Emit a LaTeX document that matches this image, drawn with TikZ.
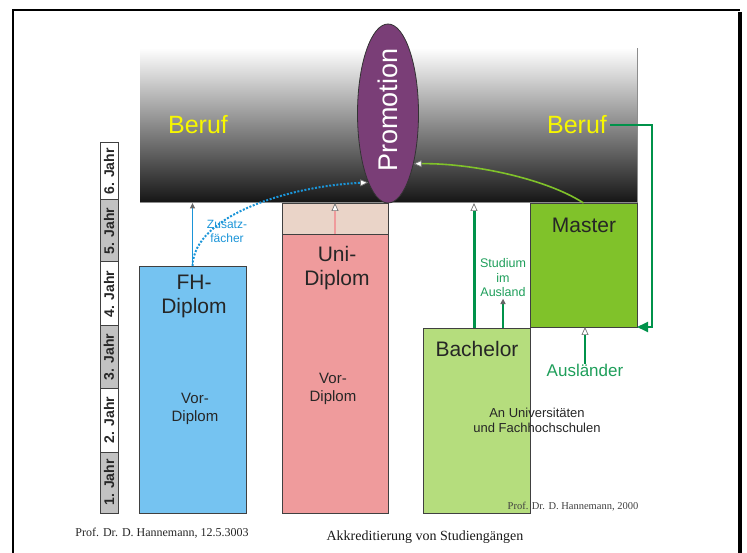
\documentclass[tikz,border=0pt]{standalone}
\usepackage{fontspec}
\setmainfont{Liberation Sans}
\newfontfamily\serifft{Liberation Serif}
\usetikzlibrary{shapes.geometric,arrows.meta,calc}
\definecolor{fhblue}{HTML}{75C3F1}
\definecolor{unipink}{HTML}{EF9B9C}
\definecolor{unitop}{HTML}{EAD4C8}
\definecolor{bachgreen}{HTML}{B5DD7D}
\definecolor{mastgreen}{HTML}{80C22A}
\definecolor{promopurple}{HTML}{7A3E77}
\definecolor{dkgreen}{HTML}{00924A}
\definecolor{txgreen}{HTML}{1E9E5A}
\definecolor{lnblue}{HTML}{1B95D8}
\definecolor{berufyellow}{HTML}{F7F700}
\definecolor{yeargray}{HTML}{C2C2C2}
\begin{document}
\begin{tikzpicture}[x=1pt,y=-1pt,
  box/.style={draw=black!75, line width=0.8pt, inner sep=0pt, outer sep=0pt, anchor=north west},
  yearbox/.style={box, minimum width=18pt, line width=1pt},
  yeartext/.style={rotate=90, font=\bfseries\fontsize{14}{14}\selectfont, inner sep=0pt, text=black!85},
  bigtext/.style={font=\fontsize{21}{24}\selectfont, align=center, text=black!85},
  midtext/.style={font=\fontsize{15}{18}\selectfont, align=center, text=black!85},
  openarr/.style={-{Triangle[length=8pt,width=7pt,color=black!55,fill=white,line width=0.7pt]}},
  smallarr/.style={-{Triangle[length=5.5pt,width=5pt,color=black!60]}},
]
\useasboundingbox (0,0) rectangle (747,553);

% frame
\draw[line width=2.2pt] (13,553) -- (13,10) -- (740,10);
\draw[line width=4pt] (740,12) -- (740,553);

% band (Beruf)
\node[anchor=north west, inner sep=0pt, outer sep=0pt, minimum width=497pt, minimum height=155pt,
      top color=white, middle color=black!52, bottom color=black!92] (band) at (140,48) {};
\draw[black!45, line width=1pt] (band.south west) -- (band.south east) -- (band.north east);

\node[font=\fontsize{25}{25}\selectfont, text=berufyellow] (beruf1) at (198,125) {Beruf};
\node[font=\fontsize{25}{25}\selectfont, text=berufyellow] (beruf2) at (577,125) {Beruf};

% year column
\node[yearbox, fill=white,     minimum height=57pt] (y6) at (100,143) {};
\node[yearbox, fill=yeargray,  minimum height=62pt] (y5) at (100,200) {};
\node[yearbox, fill=white,     minimum height=64pt] (y4) at (100,262) {};
\node[yearbox, fill=yeargray,  minimum height=62pt] (y3) at (100,326) {};
\node[yearbox, fill=white,     minimum height=64pt] (y2) at (100,388) {};
\node[yearbox, fill=yeargray,  minimum height=61pt] (y1) at (100,452) {};
\node[yeartext] (t6) at (y6) {6. Jahr};
\node[yeartext] (t5) at (y5) {5. Jahr};
\node[yeartext] (t4) at (y4) {4. Jahr};
\node[yeartext] (t3) at (y3) {3. Jahr};
\node[yeartext] (t2) at (y2) {2. Jahr};
\node[yeartext] (t1) at (y1) {1. Jahr};

% FH-Diplom
\node[box, fill=fhblue, minimum width=107pt, minimum height=247pt] (fh) at (139,266) {};
\node[bigtext] (fhtext) at (194,296) {FH-\\Diplom};
\node[midtext] (fhvor) at (195,409) {Vor-\\Diplom};

% Uni-Diplom
\node[box, fill=unitop, minimum width=106pt, minimum height=31pt] (unitopbox) at (282,203) {};
\node[box, fill=unipink, minimum width=106pt, minimum height=279pt] (uni) at (282,234) {};
\node[bigtext] (unitext) at (337,268) {Uni-\\Diplom};
\node[midtext] (univor) at (333,389) {Vor-\\Diplom};

% Bachelor / Master
\node[box, fill=bachgreen, minimum width=107pt, minimum height=185pt] (ba) at (423,328) {};
\node[box, fill=mastgreen, minimum width=107pt, minimum height=124pt] (ma) at (530,203) {};
\node[bigtext] (batext) at (477,349) {Bachelor};
\node[bigtext] (matext) at (584,225) {Master};
\node[font=\fontsize{13}{15}\selectfont, align=center, text=black!85] (antext) at (537,420) {An Universitäten\\und Fachhochschulen};

% Promotion
\node[ellipse, draw=black!80, line width=0.8pt, fill=promopurple, minimum width=61pt, minimum height=179pt, inner sep=0pt] (promo) at (388,113.5) {};
\node[rotate=90, text=white, font=\fontsize{27}{27}\selectfont] (promotext) at (388,110) {Promotion};

% connectors
\draw[lnblue, line width=1.8pt, smallarr] (fh.north) -- (fh.north |- band.south);
\draw[unipink, line width=1.8pt, openarr] (uni.north) -- (unitopbox.north);
\draw[lnblue, line width=2pt, dash pattern=on 2pt off 1.6pt, openarr]
  (fh.north) .. controls (194,215) and (290,186) .. (promo.254);
\node[text=lnblue, font=\fontsize{12}{14}\selectfont, align=center] (zus) at (227,231) {Zusatz-\\fächer};

\draw[mastgreen, line width=1.6pt, openarr]
  (ma.north) .. controls (545,178) and (470,163) .. (promo.297);

\draw[dkgreen, line width=3pt, openarr] ([xshift=-2.5pt]ba.north) -- ([xshift=-2.5pt]ba.north |- band.south);

\node[text=txgreen, font=\fontsize{12.5}{14.5}\selectfont, align=center] (stud) at (503,278) {Studium\\im\\Ausland};
\draw[dkgreen, line width=2pt, smallarr] (stud.south |- ba.north) -- ([yshift=2pt]stud.south);

\node[text=txgreen, font=\fontsize{17}{17}\selectfont] (aus) at (585,370) {Ausländer};
\draw[dkgreen, line width=2pt, openarr] ([yshift=-4pt]aus.north) -- (aus.north |- ma.south);

\draw[dkgreen, line width=1.8pt, -{Triangle[length=11pt,width=10pt]}]
  (beruf2.east) -| ([xshift=15pt]ma.south east) -- (ma.south east);

% footer
\node[font=\serifft\fontsize{12}{12}\selectfont, text=black!85] (foot1) at (162,533) {Prof. Dr. D. Hannemann, 12.5.3003};
\node[font=\serifft\fontsize{14}{14}\selectfont, text=black!90] (foot2) at (425,537) {Akkreditierung von Studiengängen};
\node[font=\serifft\fontsize{10.5}{10.5}\selectfont, text=black!75] (foot3) at (573,507) {Prof. Dr. D. Hannemann, 2000};
\end{tikzpicture}
\end{document}
